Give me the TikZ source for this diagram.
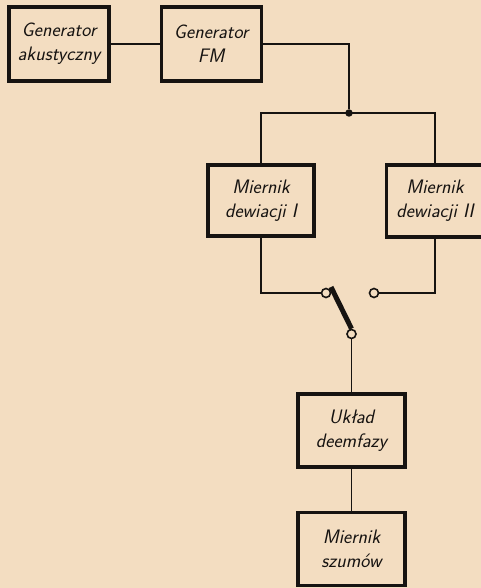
\documentclass[tikz,border=0pt]{standalone}
\usepackage{fontspec}
\usepackage{tikz}
\usetikzlibrary{positioning,calc}
\definecolor{paper}{RGB}{243,221,193}
\definecolor{ink}{RGB}{22,19,17}
\tikzset{
  blk/.style={draw=ink, line width=3.2pt, minimum width=100pt, minimum height=74pt,
              align=center, inner sep=2pt, text=ink,
              font=\fontsize{19.5}{24}\selectfont\sffamily\itshape},
  wire/.style={draw=ink, line width=1.8pt},
  contact/.style={circle, draw=ink, line width=1.6pt, fill=paper, inner sep=0pt, minimum size=9pt},
  jdot/.style={circle, fill=ink, inner sep=0pt, minimum size=7.5pt},
  blade/.style={draw=ink, line width=5pt},
}

\begin{document}
\begin{tikzpicture}[x=1pt, y=-1pt, node distance=49pt]
  \useasboundingbox (0,0) rectangle (481,588);
  \fill[paper] (0,0) rectangle (481,588);
  \clip (0,0) rectangle (481,588);
  % sources
  \node[blk] (gak) at (59,44) {Generator\\akustyczny};
  \node[blk, right=of gak] (gfm) {Generator\\FM};
  \node[jdot] (jn) at (349,113) {};
  % deviation meters
  \node[blk, minimum width=106pt, minimum height=71pt] (mdI) at (261,200.5) {Miernik\\dewiacji I};
  \node[blk, minimum width=97pt, minimum height=72pt] (mdII) at (435,201) {Miernik\\dewiacji II};
  % switch
  \node[contact] (swl) at (326,293) {};
  \node[contact] (swr) at (374,293) {};
  \node[contact] (swp) at (351.5,334) {};
  % output chain
  \node[blk, minimum width=107pt, minimum height=73pt] (ukl) at (351.5,430.5) {Układ\\deemfazy};
  \node[blk, minimum width=107pt, minimum height=73pt, below=42pt of ukl] (msz) {Miernik\\szumów};
  \draw[wire] (gak) -- (gfm);
  \draw[wire] (gfm.east) -| (jn);
  \draw[wire] (mdI.north) |- (jn.center) -| (mdII.north);
  \draw[wire] (mdI.south) |- (swl.west);
  \draw[wire] (mdII.south) |- (swr.east);
  \draw[blade] ($(swl.center)+(5,-6)$) -- (swp.north);
  \draw[wire] (swp) -- (ukl);
  \draw[wire] (ukl) -- (msz);
\end{tikzpicture}
\end{document}
